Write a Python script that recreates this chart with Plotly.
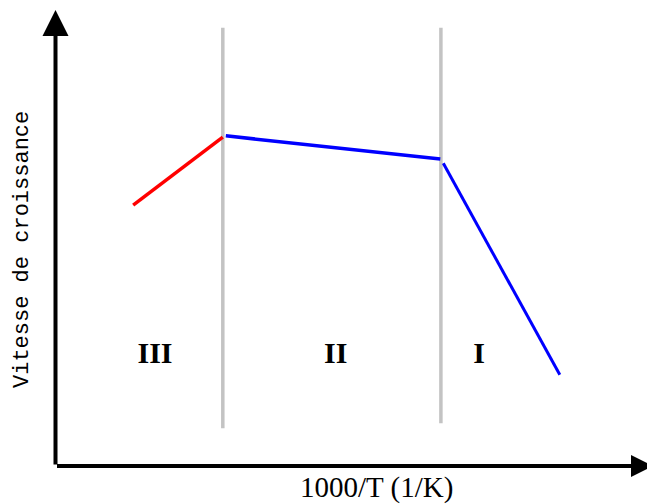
import plotly.graph_objects as go

# Data (arbitrary units)
red_x = [1.30, 2.80]
red_y = [5.72, 7.21]
blue1_x = [2.85, 6.44]
blue1_y = [7.24, 6.73]
blue2_x = [6.49, 8.44]
blue2_y = [6.64, 2.00]
boundary_x = [2.80, 6.45]
boundary_y0 = [0.83, 0.94]
boundary_y1 = [9.61, 9.61]
region_labels = ["III", "II", "I"]
region_x = [1.665, 4.69, 7.09]
region_y = [2.43, 2.43, 2.43]

fig = go.Figure()

# gray boundary lines
for bx, y0, y1 in zip(boundary_x, boundary_y0, boundary_y1):
    fig.add_trace(go.Scatter(x=[bx, bx], y=[y0, y1], mode="lines",
                             line=dict(color="#c3c3c3", width=3.5),
                             showlegend=False, hoverinfo="skip"))

fig.add_trace(go.Scatter(x=red_x, y=red_y, mode="lines",
                         line=dict(color="#ff0000", width=3.5), showlegend=False))
fig.add_trace(go.Scatter(x=blue1_x, y=blue1_y, mode="lines",
                         line=dict(color="#0000ff", width=3.5), showlegend=False))
fig.add_trace(go.Scatter(x=blue2_x, y=blue2_y, mode="lines",
                         line=dict(color="#0000ff", width=3), showlegend=False))

fig.add_trace(go.Scatter(x=region_x, y=region_y, mode="text",
                         text=["<b>%s</b>" % s for s in region_labels],
                         textfont=dict(family="Liberation Serif", size=30, color="black"),
                         textposition="middle center", showlegend=False))

# axes with arrows
fig.add_annotation(x=0, y=10, ax=0, ay=0, xref="x", yref="y", axref="x", ayref="y",
                   text="", showarrow=True, arrowhead=2, arrowsize=1.3,
                   arrowwidth=4, arrowcolor="black")
fig.add_annotation(x=10, y=0, ax=0, ay=0, xref="x", yref="y", axref="x", ayref="y",
                   text="", showarrow=True, arrowhead=2, arrowsize=1.1,
                   arrowwidth=4, arrowcolor="black")

W, H, OFF = 655, 504, 8
fig.add_annotation(x=(22 - OFF) / W, y=1 - (250 - OFF) / H, xref="paper", yref="paper",
                   text="Vitesse de croissance", showarrow=False, textangle=-90,
                   font=dict(family="Liberation Mono", size=22, color="black"),
                   xanchor="center", yanchor="middle")
fig.add_annotation(x=(376 - OFF) / W, y=1 - (487 - OFF) / H, xref="paper", yref="paper",
                   text="1000/T (1/K)", showarrow=False,
                   font=dict(family="Liberation Serif", size=29, color="black"),
                   xanchor="center", yanchor="middle")

fig.update_xaxes(range=[-0.795, 10.167], visible=False)
fig.update_yaxes(range=[-1.009, 10.044], visible=False)
fig.update_layout(width=W, height=H, margin=dict(l=0, r=0, t=0, b=0),
                  plot_bgcolor="white", paper_bgcolor="white")

fig.write_html("out.html")
